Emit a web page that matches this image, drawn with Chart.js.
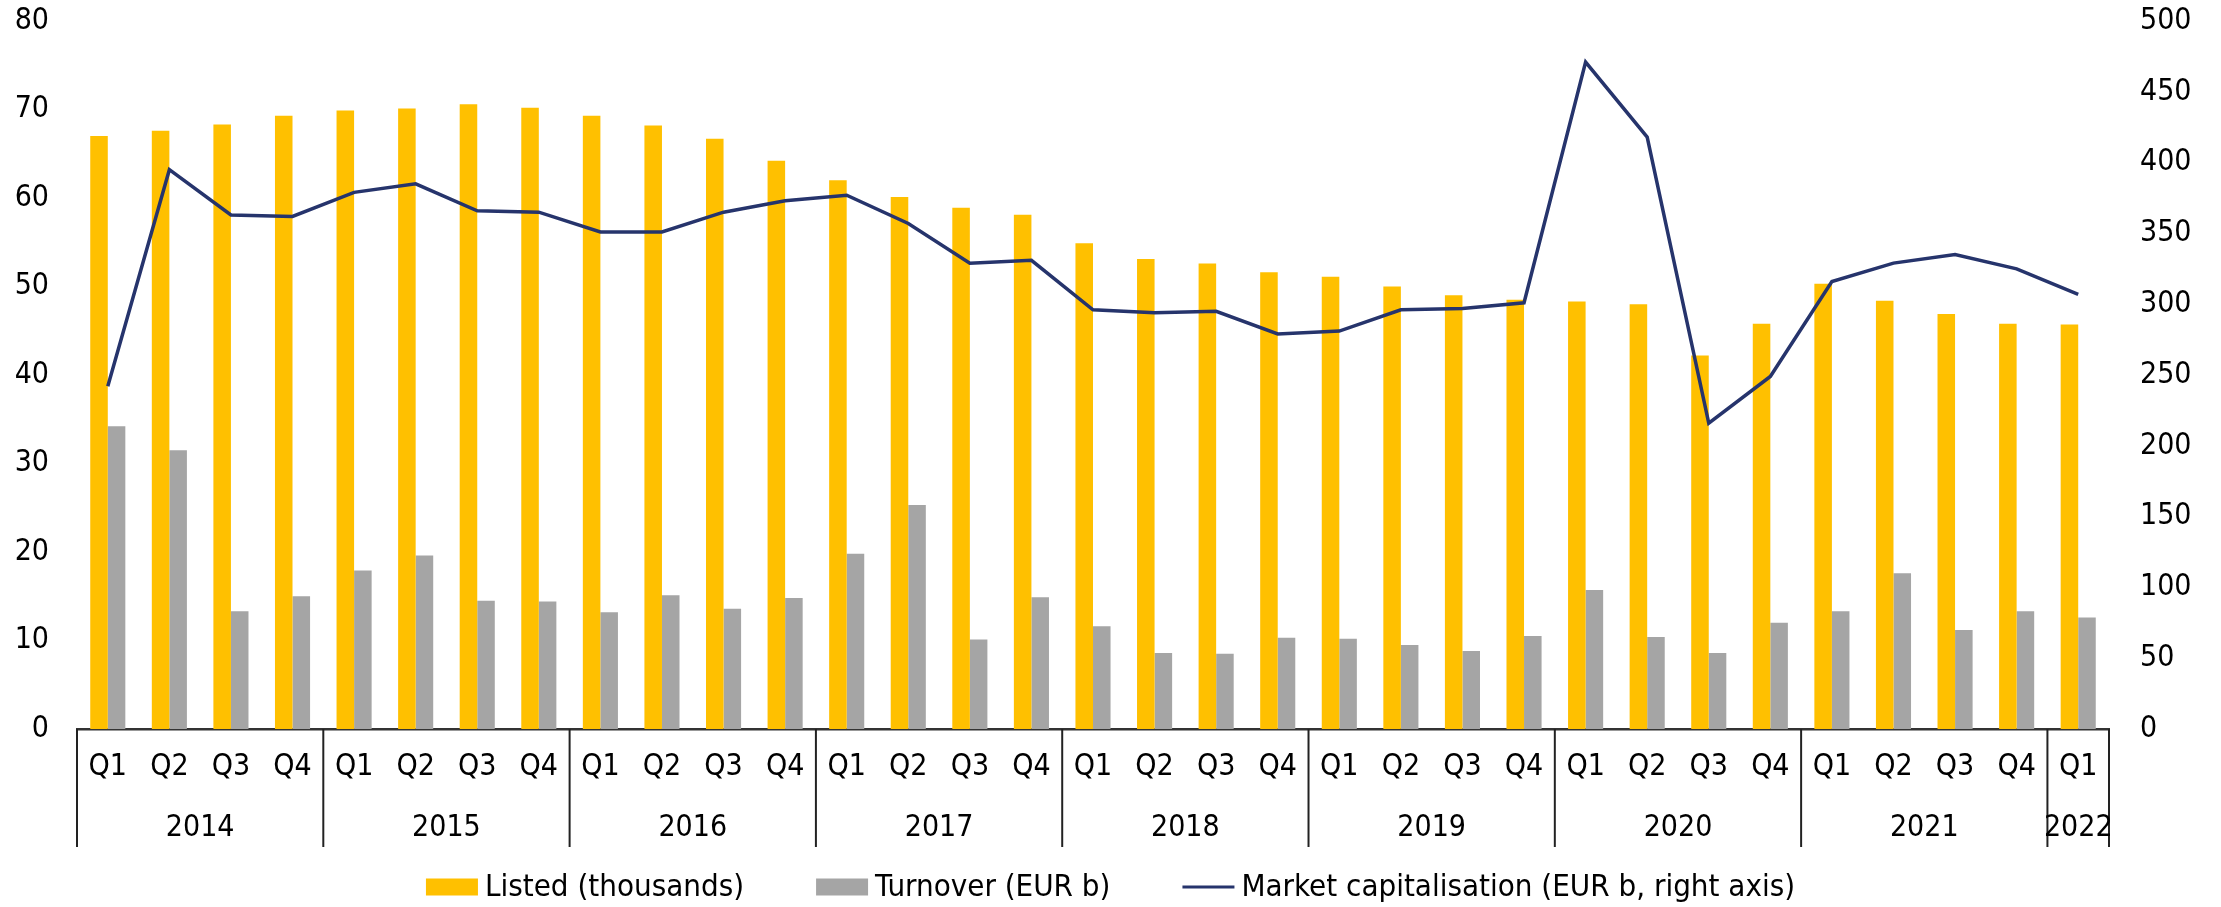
<!DOCTYPE html>
<html>
<head>
<meta charset="utf-8">
<script src="https://cdn.jsdelivr.net/npm/chart.js@4.4.1/dist/chart.umd.min.js"></script>
<style>
    html, body { margin: 0; padding: 0; background: #fff; }
    #wrap { width: 2221px; height: 907px; position: relative; }
</style>
</head>
<body>
<div id="wrap"><canvas id="myChart"></canvas></div>
<script>
const quarters = ['Q1', 'Q2', 'Q3', 'Q4', 'Q1', 'Q2', 'Q3', 'Q4', 'Q1', 'Q2', 'Q3', 'Q4',
    'Q1', 'Q2', 'Q3', 'Q4', 'Q1', 'Q2', 'Q3', 'Q4', 'Q1', 'Q2', 'Q3', 'Q4',
    'Q1', 'Q2', 'Q3', 'Q4', 'Q1', 'Q2', 'Q3', 'Q4', 'Q1'];
const years = ['2014', '2014', '2014', '2014', '2015', '2015', '2015', '2015', '2016', '2016', '2016', '2016',
    '2017', '2017', '2017', '2017', '2018', '2018', '2018', '2018', '2019', '2019', '2019', '2019',
    '2020', '2020', '2020', '2020', '2021', '2021', '2021', '2021', '2022'];

// Listed (thousands), left axis
const listed = [67.0, 67.6, 68.3, 69.3, 69.9, 70.1, 70.6, 70.2, 69.3, 68.2, 66.7, 64.2,
    62.0, 60.1, 58.9, 58.1, 54.9, 53.1, 52.6, 51.6, 51.1, 50.0, 49.0, 48.5,
    48.3, 48.0, 42.2, 45.8, 50.3, 48.4, 46.9, 45.8, 45.7];
// Turnover (EUR b), left axis
const turnover = [34.2, 31.5, 13.3, 15.0, 17.9, 19.6, 14.5, 14.4, 13.2, 15.1, 13.6, 14.8,
    19.8, 25.3, 10.1, 14.9, 11.6, 8.6, 8.5, 10.3, 10.2, 9.5, 8.8, 10.5,
    15.7, 10.4, 8.6, 12.0, 13.3, 17.6, 11.2, 13.3, 12.6];
// Market capitalisation (EUR b), right axis
const marketCap = [242, 395, 363, 362, 379, 385, 366, 365, 351, 351, 365, 373,
    377, 357, 329, 331, 296, 294, 295, 279, 281, 296, 297, 301,
    471, 418, 216, 249, 316, 329, 335, 325, 307];

const FONT = "'DejaVu Sans Condensed', 'DejaVu Sans', sans-serif";
Chart.defaults.font.family = FONT;
Chart.defaults.font.size = 30;
Chart.defaults.color = '#000';

// year groups under the quarter labels + bottom legend
const yearAxis = {
    id: 'yearAxis',
    afterDraw(chart) {
        const {ctx, scales: {x}, chartArea} = chart;
        const half = (x.getPixelForValue(1) - x.getPixelForValue(0)) / 2;
        const top = chartArea.bottom;
        const bottom = top + 118;
        ctx.save();
        ctx.strokeStyle = '#222';
        ctx.lineWidth = 2;
        ctx.fillStyle = '#000';
        ctx.font = `30px ${FONT}`;
        ctx.textAlign = 'center';
        ctx.textBaseline = 'middle';
        let start = 0;
        for (let i = 1; i <= years.length; i++) {
            if (i === years.length || years[i] !== years[start]) {
                const left = x.getPixelForValue(start) - half;
                const right = x.getPixelForValue(i - 1) + half;
                ctx.beginPath();
                ctx.moveTo(left, top);
                ctx.lineTo(left, bottom);
                ctx.stroke();
                if (i === years.length) {
                    ctx.beginPath();
                    ctx.moveTo(right, top);
                    ctx.lineTo(right, bottom);
                    ctx.stroke();
                }
                ctx.fillText(years[start], (left + right) / 2, top + 99);
                start = i;
            }
        }

        // legend
        ctx.font = `31px ${FONT}`;
        const boxW = 52, boxH = 17, gap = 7, itemGap = 72;
        const items = chart.data.datasets.map(ds => ({
            text: ds.label, type: ds.type || 'bar',
            color: ds.type === 'line' ? ds.borderColor : ds.backgroundColor,
            w: boxW + gap + ctx.measureText(ds.label).width,
        }));
        const total = items.reduce((s, it) => s + it.w, 0) + itemGap * (items.length - 1);
        let lx = (chart.width - total) / 2;
        const ly = 887;
        ctx.textAlign = 'left';
        for (const it of items) {
            if (it.type === 'line') {
                ctx.strokeStyle = it.color;
                ctx.lineWidth = 3;
                ctx.beginPath();
                ctx.moveTo(lx, ly);
                ctx.lineTo(lx + boxW, ly);
                ctx.stroke();
            } else {
                ctx.fillStyle = it.color;
                ctx.fillRect(lx, ly - boxH / 2, boxW, boxH);
            }
            ctx.fillStyle = '#000';
            ctx.fillText(it.text, lx + boxW + gap, ly + 1);
            lx += it.w + itemGap;
        }
        ctx.restore();
    }
};

const ctx = document.getElementById('myChart').getContext('2d');
const chart = new Chart(ctx, {
    type: 'bar',
    data: {
        labels: quarters,
        datasets: [
            {
                label: 'Listed (thousands)',
                data: listed,
                backgroundColor: '#FFC000',
                yAxisID: 'y',
                order: 1,
            },
            {
                label: 'Turnover (EUR b)',
                data: turnover,
                backgroundColor: '#A5A5A5',
                yAxisID: 'y',
                order: 1,
            },
            {
                type: 'line',
                label: 'Market capitalisation (EUR b, right axis)',
                data: marketCap,
                borderColor: '#26346C',
                backgroundColor: '#26346C',
                borderWidth: 3.5,
                pointRadius: 0,
                tension: 0,
                yAxisID: 'y2',
                order: 0,
            },
        ],
    },
    options: {
        responsive: true,
        maintainAspectRatio: false,
        animation: false,
        layout: { padding: { top: 21, bottom: 48, left: 0, right: 0 } },
        datasets: {
            bar: { categoryPercentage: 0.57, barPercentage: 1.0 },
        },
        plugins: {
            legend: { display: false },
            tooltip: { enabled: false },
        },
        scales: {
            x: {
                grid: { display: false, drawTicks: false },
                border: { display: true, color: '#333', width: 2.5 },
                ticks: { padding: 20, maxRotation: 0, autoSkip: false },
                afterFit: s => { s.height = 130; },
            },
            y: {
                position: 'left',
                min: 0, max: 80,
                grid: { display: false, drawTicks: false },
                border: { display: false },
                ticks: { stepSize: 10, padding: 28 },
                afterFit: s => { s.width = 77; s.paddingTop = 0; s.paddingBottom = 0; },
            },
            y2: {
                position: 'right',
                min: 0, max: 500,
                grid: { display: false, drawTicks: false },
                border: { display: false },
                ticks: { stepSize: 50, padding: 31 },
                afterFit: s => { s.width = 112; s.paddingTop = 0; s.paddingBottom = 0; },
            },
        },
    },
    plugins: [yearAxis],
});
</script>
</body>
</html>
